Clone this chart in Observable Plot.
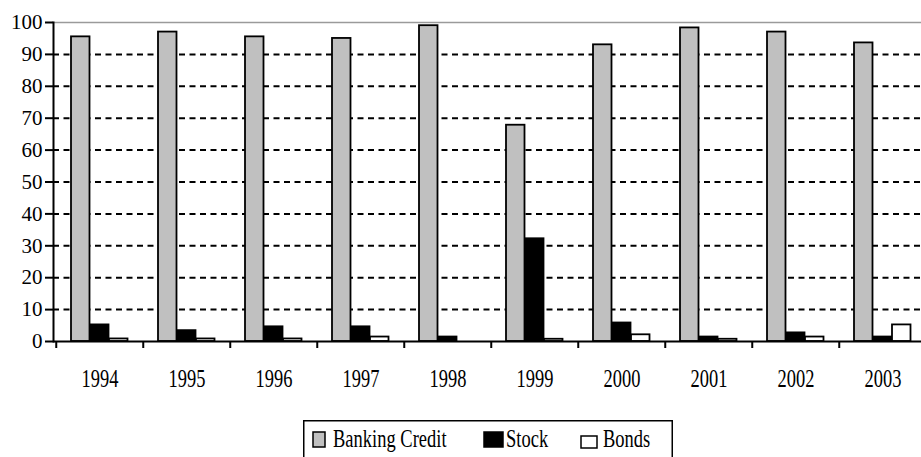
<!DOCTYPE html>
<html><head><meta charset="utf-8">
<script src="https://cdn.jsdelivr.net/npm/d3@7"></script>
<script src="https://cdn.jsdelivr.net/npm/@observablehq/plot@0.6"></script>
<style>
body{margin:0;background:#fff;overflow:hidden;}
#wrap{position:relative;width:921px;height:457px;overflow:hidden;}
#wrap text{font-family:"Liberation Serif","Times New Roman",serif;}
</style></head><body><div id="wrap"></div>
<script>
const years = ["1994","1995","1996","1997","1998","1999","2000","2001","2002","2003"];
const series = ["Banking Credit","Stock","Bonds"];
const banking = [95.5, 97, 95.5, 95, 99, 67.8, 93, 98.3, 97, 93.6];
const stock = [5.2, 3.4, 4.6, 4.6, 1.4, 32.2, 5.8, 1.4, 2.7, 1.4];
const bonds = [0.8, 0.8, 0.8, 1.4, 0, 0.7, 2.1, 0.7, 1.4, 5.2];
const fills = ["#c0c0c0", "#000000", "#ffffff"];
const yTicks = [0,10,20,30,40,50,60,70,80,90,100];
const gridValues = [10,20,30,40,50,60,70,80,90];

const values = [banking, stock, bonds];
const rows = years.map((year, i) => {
  const r = {year};
  series.forEach((s, k) => r[s] = values[k][i]);
  return r;
});

const W = 921, H = 400, mL = 53, mR = -7, mT = 22, mB = 59;
const band = (W - mL - mR) / years.length;
const barW = 19, groupPad = 15;
function insets(k) {
  const left = groupPad + k * barW;
  return {insetLeft: left, insetRight: band - left - barW};
}
const FONT = "Liberation Serif";

const chart = Plot.plot({
  width: W, height: H,
  marginLeft: mL, marginRight: mR, marginTop: mT, marginBottom: mB,
  style: {fontFamily: FONT, fontSize: "20px", background: "white"},
  x: {type: "band", domain: years, padding: 0},
  y: {domain: [0, 100]},
  marks: [
    Plot.ruleY(gridValues, {stroke: "black", strokeWidth: 2, strokeDasharray: "6,4.5"}),
    Plot.ruleY([100], {stroke: "#9a9a9a", strokeWidth: 1.5}),
    ...series.map((s, k) => Plot.barY(rows, {x: "year", y: s, fill: fills[k], stroke: "black", strokeWidth: 1.8, ...insets(k)})),
    Plot.ruleY([0], {stroke: "black", strokeWidth: 2}),
    Plot.frame({anchor: "left", stroke: "black", strokeWidth: 2}),
    Plot.axisY({ticks: yTicks, tickSize: 8, tickPadding: 3, tickFormat: d => String(d), strokeWidth: 2, stroke: "black", fill: "black", fontSize: 20, label: null}),
    Plot.axisX({tickSize: 7, tickFormat: () => "", dx: -band / 2, strokeWidth: 2, stroke: "black", label: null}),
    Plot.axisX({tickSize: 0, tickPadding: 27, fontSize: 26, fill: "black", label: null})
  ]
});

chart.querySelectorAll('g[aria-label="x-axis tick label"] text').forEach(t => {
  const tr = t.getAttribute("transform") || "";
  const x = t.getAttribute("x");
  if (x !== null) {
    t.setAttribute("transform", `${tr} translate(${x},0) scale(0.71,1) translate(${-x},0)`);
  } else {
    t.setAttribute("transform", `${tr} scale(0.71,1)`);
  }
});
chart.querySelectorAll('g[aria-label="y-axis tick label"]').forEach(g => {
  g.setAttribute("font-size", 21);
  g.querySelectorAll("text").forEach(t => { t.setAttribute("font-size", 21); t.style.fontSize = "21px"; });
});
chart.querySelectorAll("text").forEach(t => t.setAttribute("font-family", FONT));

const wrap = document.getElementById("wrap");
wrap.appendChild(chart);

// legend
const leg = d3.create("svg").attr("width", W).attr("height", 57)
  .style("position", "absolute").style("left", "0px").style("top", H + "px")
  .attr("font-family", FONT);
leg.append("rect").attr("x", 303.75).attr("y", 20.75).attr("width", 368.5).attr("height", 60)
  .attr("fill", "none").attr("stroke", "black").attr("stroke-width", 1.5);
const swatches = [
  {x: 313, y: 32, w: 12, h: 15, tx: 333},
  {x: 484, y: 32, w: 19, h: 15, tx: 506},
  {x: 581, y: 36, w: 16, h: 12, tx: 603}
];
series.forEach((s, k) => {
  const sw = swatches[k];
  leg.append("rect").attr("x", sw.x).attr("y", sw.y).attr("width", sw.w).attr("height", sw.h)
    .attr("fill", fills[k]).attr("stroke", "black").attr("stroke-width", 1.5);
  leg.append("text").attr("transform", `translate(${sw.tx},47) scale(0.74,1)`)
    .attr("font-size", 25).attr("font-family", FONT).attr("fill", "black").text(s);
});
wrap.appendChild(leg.node());
</script></body></html>
